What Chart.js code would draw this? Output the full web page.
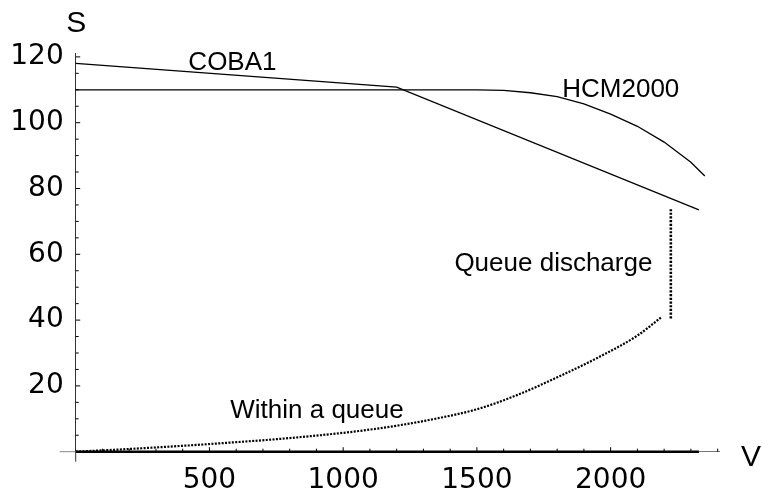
<!DOCTYPE html>
<html><head><meta charset="utf-8">
<script src="https://cdn.jsdelivr.net/npm/chart.js@4.4.1/dist/chart.umd.min.js"></script>
<style>html,body{margin:0;padding:0;background:#fff}#wrap{width:762px;height:504px}</style>
</head><body><div id="wrap"><canvas id="c" width="762" height="504"></canvas></div>
<script>
// ---- data ----
const cobaV = [0, 1200, 2330];
const cobaS = [118, 110.8, 73.5];

const hcmV = [0, 1500, 1600, 1700, 1800, 1900, 2000, 2100, 2200, 2300, 2352];
const hcmS = [110, 110, 109.8, 109.1, 107.9, 105.7, 102.6, 98.9, 94.1, 88, 83.8];

const queueV = [0, 150, 300, 450, 600, 750, 900, 1050, 1200, 1350, 1500, 1650, 1800, 1950, 2100, 2190];
const queueS = [0, 0.6, 1.3, 2.05, 2.9, 3.8, 4.9, 6.2, 7.9, 10.1, 12.9, 17.2, 22.6, 28.5, 35.3, 40.9];

const dischargeV = [2225, 2225];
const dischargeS = [40.5, 73.7];

const baseV = [0, 2330];
const baseS = [0, 0];

const vTicks = [500, 1000, 1500, 2000];
const sTicks = [20, 40, 60, 80, 100, 120];
const vMinorStep = 100, vMinorMax = 2400;
const sMinorStep = 5, sMinorMax = 120;

const labelTexts = ['COBA1', 'HCM2000', 'Within a queue', 'Queue discharge'];
const labelV = [586, 2038, 902, 1786];
const labelS = [118.8, 110.7, 13.2, 57.7];

const xTitle = 'V', yTitle = 'S';

// ---- chart ----
const pts = (xs, ys) => xs.map((v, i) => ({x: v, y: ys[i]}));
const ANN_FONT = '26px "Liberation Sans", Arial, sans-serif';
const TITLE_FONT = '30px "Liberation Sans", Arial, sans-serif';

const deco = {
  id: 'deco',
  afterDraw(chart) {
    const {ctx, scales: {x, y}, chartArea: ca} = chart;
    const x0 = x.getPixelForValue(0), y0 = y.getPixelForValue(0);
    ctx.save();
    // axis overhangs
    ctx.lineWidth = 1;
    ctx.strokeStyle = '#888';
    ctx.beginPath(); ctx.moveTo(x0 - 16, y0); ctx.lineTo(x0, y0); ctx.stroke();
    ctx.strokeStyle = '#333';
    ctx.beginPath(); ctx.moveTo(x0, y0); ctx.lineTo(x0, y0 + 10); ctx.stroke();
    // inward tick marks
    ctx.strokeStyle = '#000';
    ctx.lineWidth = 1;
    for (let v = vMinorStep; v <= vMinorMax; v += vMinorStep) {
      const px = x.getPixelForValue(v);
      const len = vTicks.includes(v) ? 4.5 : 3;
      ctx.beginPath(); ctx.moveTo(px, y0); ctx.lineTo(px, y0 - len); ctx.stroke();
    }
    for (let s = sMinorStep; s <= sMinorMax; s += sMinorStep) {
      const py = y.getPixelForValue(s);
      const len = sTicks.includes(s) ? 4.5 : 3;
      ctx.beginPath(); ctx.moveTo(x0, py); ctx.lineTo(x0 + len, py); ctx.stroke();
    }
    // annotations
    ctx.fillStyle = '#000';
    ctx.textAlign = 'center';
    ctx.textBaseline = 'alphabetic';
    ctx.font = ANN_FONT;
    labelTexts.forEach((t, i) => {
      ctx.fillText(t, x.getPixelForValue(labelV[i]), y.getPixelForValue(labelS[i]) + 0.358 * 26);
    });
    // axis titles
    ctx.font = TITLE_FONT;
    ctx.fillText(yTitle, x0 + 0.5, ca.top - 32.5 + 0.358 * 30);
    ctx.fillText(xTitle, ca.right + 31.5, y0 + 3.5 + 0.358 * 30);
    ctx.restore();
  }
};

const tickFont = {family: '"DejaVu Sans", sans-serif', size: 28};

new Chart(document.getElementById('c'), {
  type: 'scatter',
  data: {
    datasets: [
      {label: 'COBA1', data: pts(cobaV, cobaS), showLine: true, borderColor: '#000', borderWidth: 1.3, pointRadius: 0, tension: 0, clip: false},
      {label: 'HCM2000', data: pts(hcmV, hcmS), showLine: true, borderColor: '#000', borderWidth: 1.3, pointRadius: 0, tension: 0, clip: false},
      {label: 'Within a queue', data: pts(queueV, queueS), showLine: true, borderColor: '#000', borderWidth: 2.2, borderDash: [2, 1.4], borderCapStyle: 'butt', pointRadius: 0, cubicInterpolationMode: 'monotone', clip: false},
      {label: 'Queue discharge', data: pts(dischargeV, dischargeS), showLine: true, borderColor: '#000', borderWidth: 2.6, borderDash: [2.2, 1.5], borderCapStyle: 'butt', pointRadius: 0, clip: false},
      {label: 'base', data: pts(baseV, baseS), showLine: true, borderColor: '#000', borderWidth: 2.5, pointRadius: 0, clip: false}
    ]
  },
  options: {
    responsive: false,
    animation: false,
    devicePixelRatio: 1,
    layout: {padding: {top: 53.6, right: 42.5, left: 0, bottom: 0}},
    plugins: {legend: {display: false}, tooltip: {enabled: false}},
    scales: {
      x: {
        type: 'linear', position: 'bottom', min: 0, max: 2407,
        afterBuildTicks: s => { s.ticks = vTicks.map(v => ({value: v})); },
        afterFit: s => { s.height = 52.3; },
        grid: {display: false, drawTicks: false},
        border: {display: true, color: '#777', width: 1},
        ticks: {font: tickFont, color: '#000', padding: 12, maxRotation: 0, autoSkip: false, callback: v => String(v)}
      },
      y: {
        type: 'linear', position: 'left', min: 0, max: 121,
        afterBuildTicks: s => { s.ticks = sTicks.map(v => ({value: v})); },
        afterFit: s => { s.width = 75.7; },
        grid: {display: false, drawTicks: false},
        border: {display: true, color: '#333', width: 1},
        ticks: {font: tickFont, color: '#000', padding: 12, autoSkip: false, callback: v => String(v)}
      }
    }
  },
  plugins: [deco]
});
</script>
</body></html>
